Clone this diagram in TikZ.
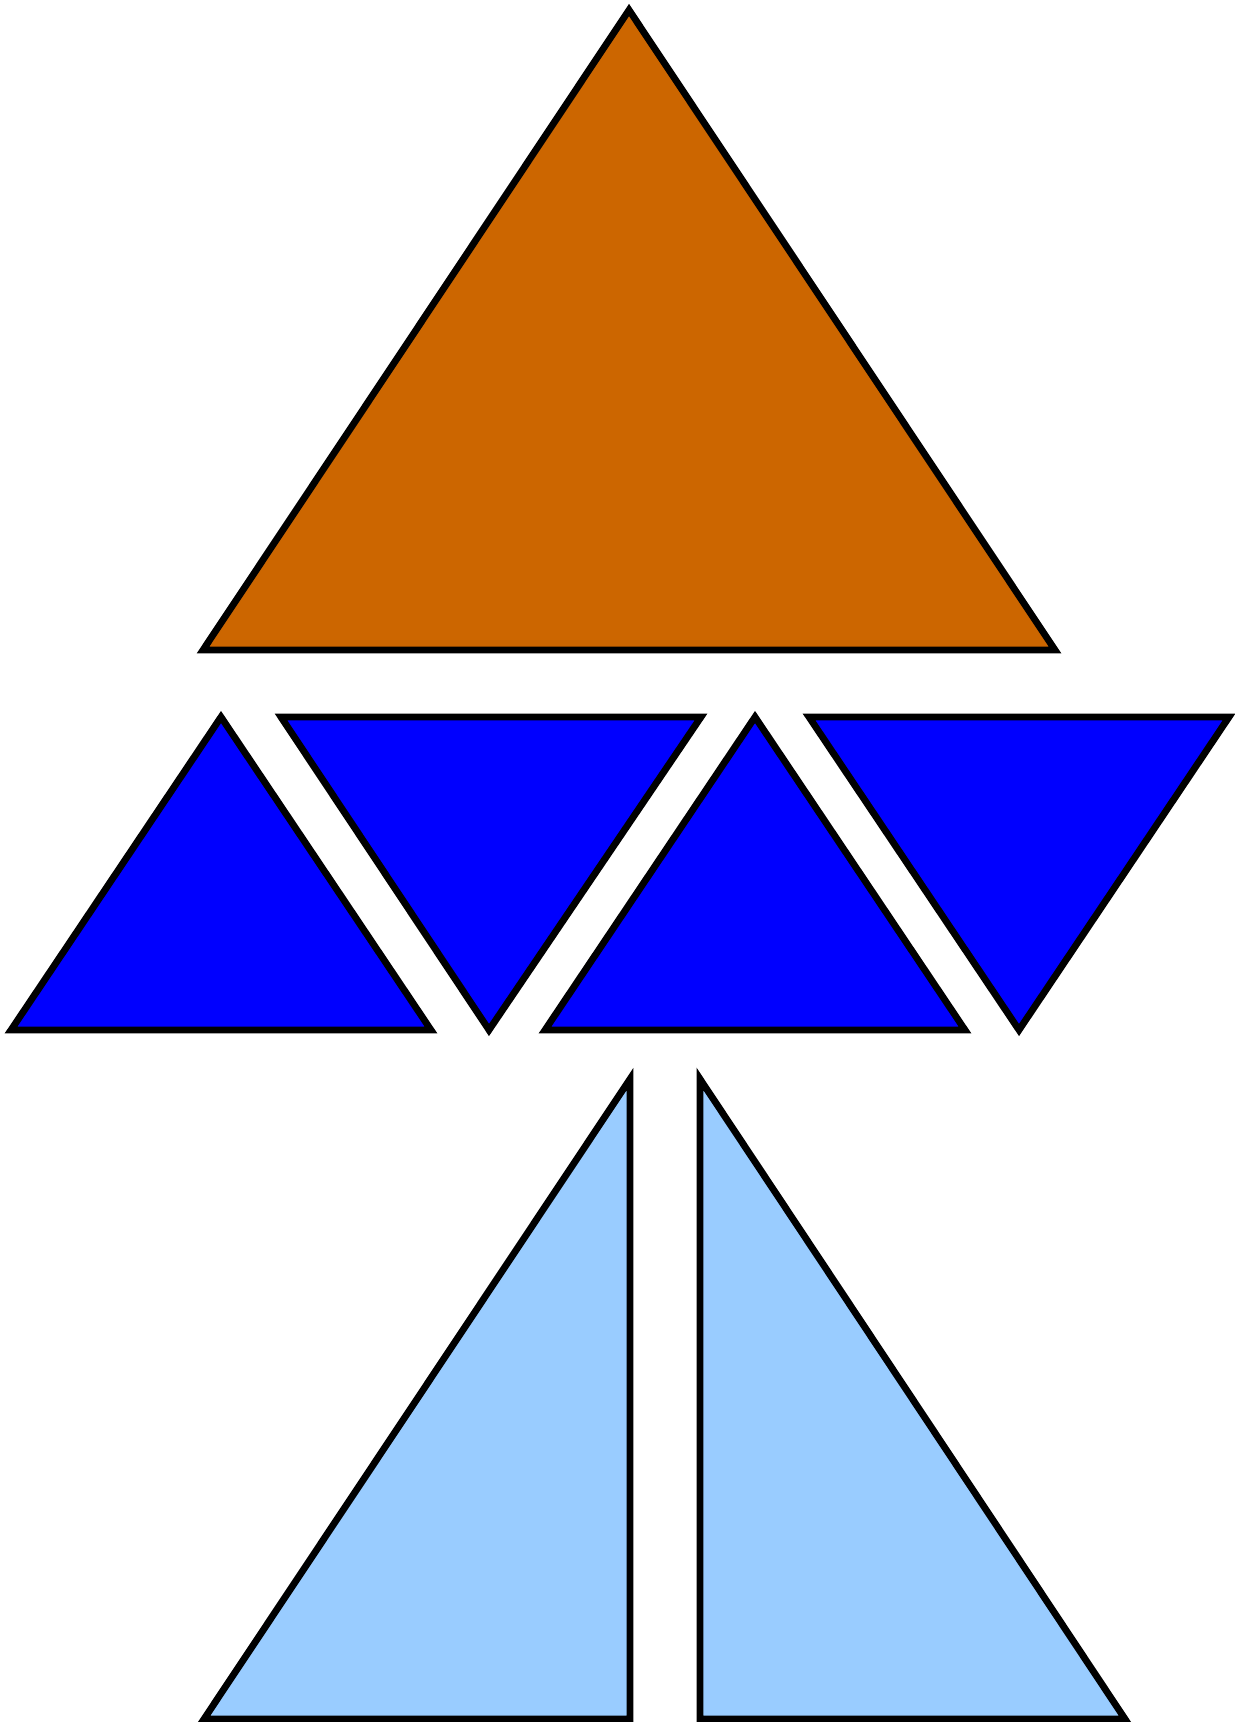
\documentclass[tikz,border=0pt]{standalone}
\definecolor{orangefill}{RGB}{204,102,0}
\definecolor{bluefill}{RGB}{0,0,255}
\definecolor{lightfill}{RGB}{153,204,255}
\begin{document}
\begin{tikzpicture}[x=0.5pt,y=-0.5pt,
  piece/.style={draw=black,line width=3.4pt,line join=miter}]
\useasboundingbox (0,0) rectangle (1235,1722);
\clip (0,0) rectangle (1235,1722);
% top orange triangle
\filldraw[piece,fill=orangefill] (629,10) -- (1055,650) -- (203,650) -- cycle;
% middle row of blue triangles
\filldraw[piece,fill=bluefill] (221,717) -- (431,1030) -- (11,1030) -- cycle;
\filldraw[piece,fill=bluefill] (281,717) -- (701,717) -- (489,1030) -- cycle;
\filldraw[piece,fill=bluefill] (755,717) -- (965,1030) -- (545,1030) -- cycle;
\filldraw[piece,fill=bluefill] (809,717) -- (1229,717) -- (1019,1030) -- cycle;
% bottom light blue right triangles
\filldraw[piece,fill=lightfill] (630,1079) -- (630,1719) -- (204,1719) -- cycle;
\filldraw[piece,fill=lightfill] (700,1079) -- (1125,1719) -- (700,1719) -- cycle;
\end{tikzpicture}
\end{document}
